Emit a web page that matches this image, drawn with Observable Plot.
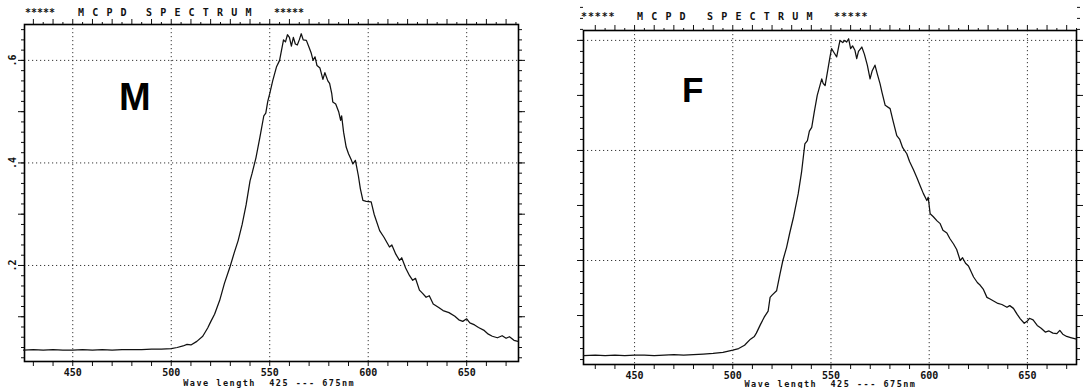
<!DOCTYPE html>
<html><head><meta charset="utf-8">
<script src="https://cdn.jsdelivr.net/npm/d3@7"></script>
<script src="https://cdn.jsdelivr.net/npm/@observablehq/plot@0.6"></script>
<style>
body{margin:0;background:#fff;}
#wrap{position:relative;width:1087px;height:388px;overflow:hidden;background:#fff;}
.t{position:absolute;font-family:"DejaVu Sans Mono",monospace;font-size:10px;font-weight:bold;line-height:10px;white-space:pre;color:#111;}
.big{position:absolute;font-family:"Liberation Sans",Arial,sans-serif;font-weight:bold;line-height:1;color:#000;}
.xl{position:absolute;font-family:"DejaVu Sans Mono",monospace;font-size:8.5px;font-weight:bold;letter-spacing:1.5px;line-height:8px;white-space:pre;color:#111;transform:translateX(-50%);}
.p{position:absolute;top:0;}
</style></head><body><div id="wrap"></div>
<script>
// ---- data ----
const panelNames = ["M", "F"];
const titleParts = ["*****", "M C P D", "S P E C T R U M", "*****"];
const xAxisLabel = "Wave length  425 --- 675nm";
const xTickValues = [450, 500, 550, 600, 650];
const yGridValues = [0.2, 0.4, 0.6];
const yTickLabels = [".2", ".4", ".6"];

const wavelengthM = [425,430,435,440,445,450,455,460,465,470,475,480,485,490,495,500,503,506,508,510,513,516,518.5,520,522,524.6,527,529.8,532,534,536,538,540,541,543,545,547,548,549,550,551.5,553.4,555,556,557,558,559,560,561,562,563,564,565,566,567,568.6,570,571,572,573,574,575.5,577,578,579.5,580.4,581.5,582,583.5,585,586,586.5,587.5,588.8,590,591.5,592.2,593.5,595,596,597.3,599,601.5,603,605.8,608,610.8,612,614,615.9,617,619,621,622.6,624,626,627.5,629.4,631,633,635.8,638,641,644,646,648,650,651.6,654,656,658.6,661,663,665.6,668,670,671.7,674,676];
const intensityM = [0.035,0.036,0.035,0.036,0.035,0.035,0.036,0.035,0.036,0.035,0.036,0.036,0.036,0.037,0.037,0.038,0.040,0.043,0.046,0.045,0.052,0.062,0.078,0.090,0.105,0.132,0.165,0.197,0.225,0.249,0.280,0.318,0.365,0.379,0.410,0.450,0.492,0.497,0.520,0.535,0.560,0.587,0.600,0.620,0.640,0.636,0.650,0.645,0.628,0.645,0.632,0.630,0.640,0.652,0.640,0.639,0.625,0.615,0.600,0.607,0.590,0.585,0.563,0.576,0.560,0.555,0.535,0.519,0.515,0.500,0.483,0.492,0.460,0.431,0.418,0.405,0.398,0.405,0.375,0.350,0.327,0.325,0.324,0.300,0.268,0.255,0.236,0.240,0.222,0.210,0.215,0.195,0.180,0.171,0.175,0.152,0.146,0.138,0.141,0.125,0.118,0.112,0.108,0.101,0.094,0.091,0.096,0.088,0.084,0.079,0.074,0.066,0.062,0.059,0.063,0.058,0.061,0.054,0.052];

const wavelengthF = [424,430,435,440,445,450,455,460,465,470,475,480,485,490,495,500,503,506,509,511,512,514,516,518,519,520,522.3,524,525.5,527.4,529,531,533.3,535,536.7,538,539,540.2,541.5,543,545.3,546,547,548.6,549.5,550.3,551.5,552.9,554,554.6,556,557,558,559,560,561,562.2,563.1,564,565.7,567,568.5,569.9,571,572.4,573.5,575,576,577.6,580.1,581.5,583.5,585,586.5,588.6,590,592,593.7,595.5,597,598.8,599.5,600.5,602,604,605.6,607,609,610.5,612.4,614,615.8,617,618.5,620,622.6,624.5,626,627.5,629.4,631,633,635,637,639.6,641,642.9,644.8,646.4,648.4,650,651,652.9,655,657,659.1,661,663,665,666.5,668,670,672,675];
const intensityF = [0.027,0.028,0.027,0.028,0.027,0.028,0.028,0.027,0.028,0.029,0.028,0.029,0.030,0.031,0.033,0.037,0.040,0.046,0.057,0.062,0.068,0.083,0.097,0.108,0.133,0.137,0.145,0.175,0.200,0.224,0.250,0.280,0.321,0.360,0.412,0.418,0.435,0.442,0.470,0.500,0.530,0.522,0.518,0.551,0.570,0.585,0.578,0.570,0.590,0.600,0.596,0.600,0.597,0.603,0.585,0.590,0.582,0.567,0.580,0.588,0.575,0.555,0.530,0.545,0.555,0.540,0.521,0.505,0.482,0.476,0.455,0.427,0.420,0.405,0.394,0.380,0.365,0.351,0.335,0.322,0.309,0.315,0.285,0.280,0.272,0.267,0.255,0.250,0.240,0.230,0.220,0.200,0.205,0.195,0.190,0.170,0.160,0.155,0.148,0.133,0.130,0.126,0.122,0.120,0.115,0.118,0.113,0.102,0.094,0.086,0.090,0.095,0.092,0.082,0.077,0.070,0.072,0.068,0.067,0.073,0.066,0.062,0.060,0.057];

// ---- drawing ----
const wrap = document.getElementById("wrap");
const none = () => "";
const yMinor = d3.range(1, 34).map(i => i * 0.02);
const yMajor = d3.range(1, 7).map(i => i / 10);

function panel(o) {
  const data = o.wl.map((w, i) => ({w, v: o.iv[i]}));
  const grid = {stroke: "#222", strokeDasharray: "1.2,2.8", strokeWidth: 1, strokeOpacity: 0.9};
  const yFmt = d => {
    const k = yGridValues.findIndex(g => Math.abs(g - d) < 1e-9);
    return o.showY && k >= 0 ? yTickLabels[k] : "";
  };
  return Plot.plot({
    width: o.width, height: 388,
    marginLeft: o.ml, marginRight: o.mr, marginTop: o.mt, marginBottom: o.mb,
    style: {background: "transparent", fontFamily: "DejaVu Sans Mono, monospace", fontWeight: "bold", fontSize: "10px", color: "#111", overflow: "visible"},
    x: {domain: o.xd},
    y: {domain: o.yd},
    marks: [
      Plot.gridX(xTickValues, grid),
      Plot.gridY(yGridValues, grid),
      Plot.axisX({anchor: "bottom", ticks: d3.range(430, 676, 10), tickSize: 5, tickPadding: 2, tickFormat: d => xTickValues.includes(d) ? String(d) : "", label: null}),
      Plot.axisX({anchor: "top", ticks: d3.range(430, 676, 10), tickSize: 6, tickFormat: none, label: null}),
      Plot.axisX({anchor: "top", ticks: d3.range(435, 676, 10), tickSize: 3, tickFormat: none, label: null}),
      Plot.axisY({anchor: "left", ticks: yMinor, tickSize: 3, tickFormat: none, label: null}),
      Plot.axisY({anchor: "left", ticks: yMajor, tickSize: 6, tickPadding: 3, tickRotate: -90, tickFormat: yFmt, label: null}),
      Plot.axisY({anchor: "right", ticks: yMinor, tickSize: 3, tickFormat: none, label: null}),
      Plot.axisY({anchor: "right", ticks: yMajor, tickSize: 6, tickFormat: none, label: null}),
      Plot.frame({stroke: "#000", strokeWidth: 1.6}),
      Plot.line(data, {x: "w", y: "v", stroke: "#111", strokeWidth: 1.25})
    ]
  });
}

const panels = [
  {left: 0, width: 540, ml: 24, mr: 22, mt: 24, mb: 27, xd: [425.5, 676.3], yd: [0.0127, 0.670], wl: wavelengthM, iv: intensityM, showY: true,
   titleX: [25, 78, 146, 274], titleY: 8, charW: 6.0, nameX: 119, nameY: 78, nameSize: 38, labelY: 379},
  {left: 540, width: 547, ml: 43, mr: 11, mt: 30, mb: 24, xd: [424, 675], yd: [0.011, 0.618], wl: wavelengthF, iv: intensityF, showY: false,
   titleX: [581, 637, 707, 834], titleY: 12, charW: 6.9, nameX: 682, nameY: 72, nameSize: 35, labelY: 380}
];

panels.forEach((o, idx) => {
  const svg = panel(o);
  svg.classList.add("p");
  svg.style.left = o.left + "px";
  wrap.appendChild(svg);
  titleParts.forEach((t, k) => {
    const d = document.createElement("div");
    d.className = "t";
    d.textContent = t;
    d.style.left = o.titleX[k] + "px";
    d.style.top = o.titleY + "px";
    d.style.letterSpacing = (k === 0 || k === 3 ? o.charW - 6.02 : 7.1 - 6.02) + "px";
    wrap.appendChild(d);
  });
  const n = document.createElement("div");
  n.className = "big";
  n.textContent = panelNames[idx];
  n.style.left = o.nameX + "px";
  n.style.top = o.nameY + "px";
  n.style.fontSize = o.nameSize + "px";
  wrap.appendChild(n);
  const xs = d3.scaleLinear().domain(o.xd).range([o.left + o.ml, o.left + o.width - o.mr]);
  const l = document.createElement("div");
  l.className = "xl";
  l.textContent = xAxisLabel;
  l.style.left = xs(550) + "px";
  l.style.top = o.labelY + "px";
  wrap.appendChild(l);
});
</script></body></html>
